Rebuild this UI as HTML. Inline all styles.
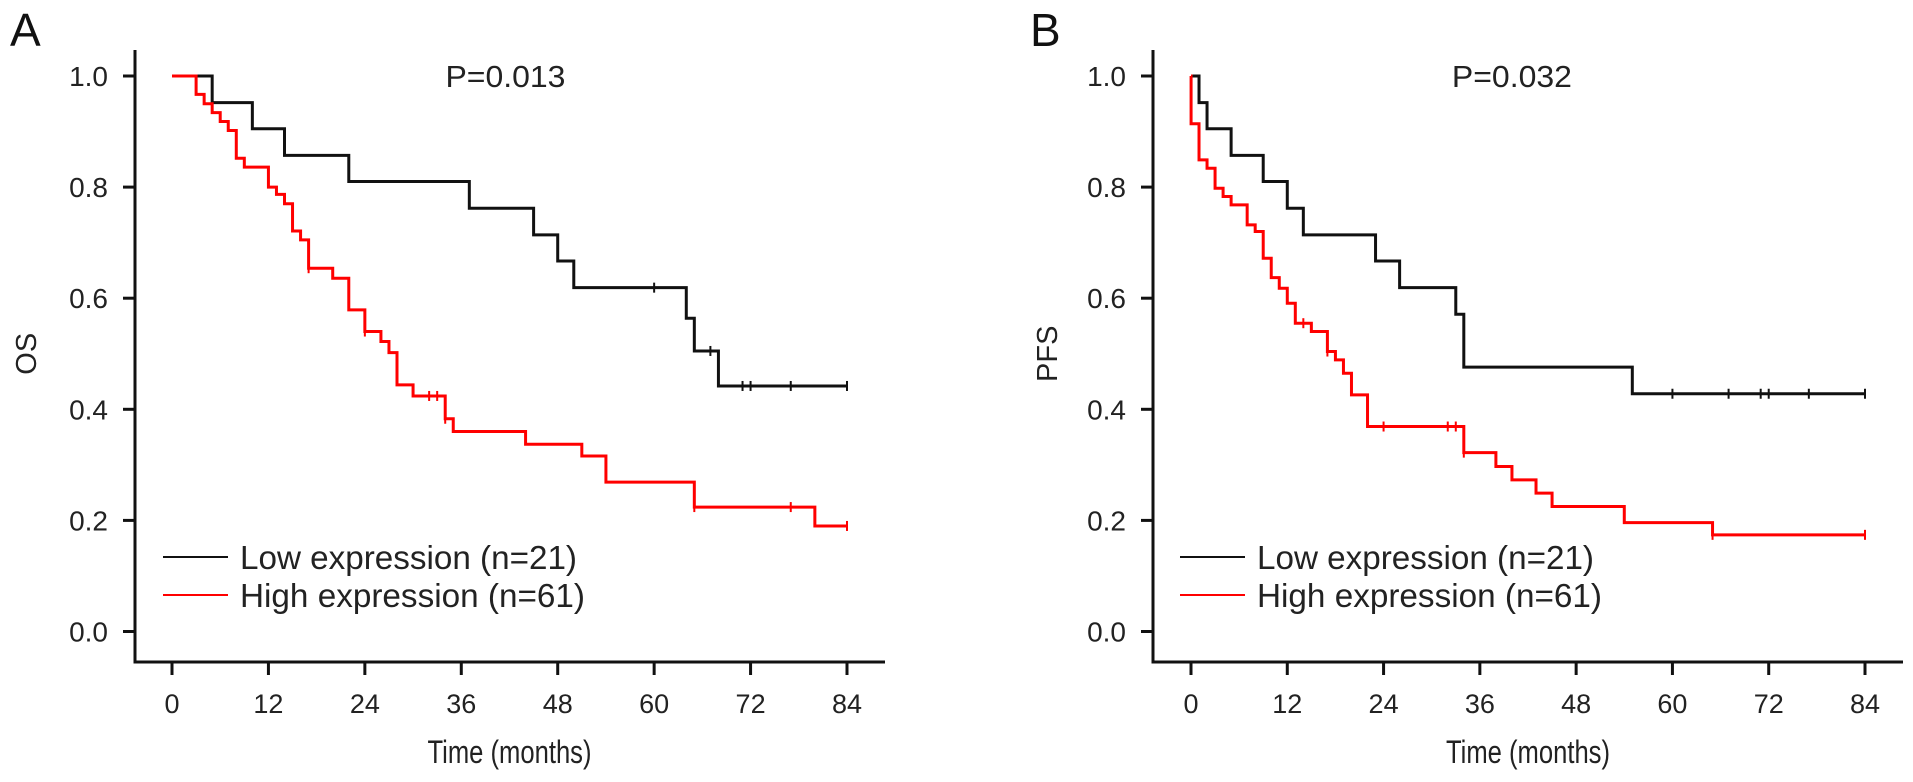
<!DOCTYPE html>
<html><head><meta charset="utf-8"><style>
html,body{margin:0;padding:0;background:#fff;}
svg{display:block;font-family:"Liberation Sans",Arial,sans-serif;}
</style></head>
<body>
<svg id="chart" width="1913" height="782" viewBox="0 0 1913 782" xmlns="http://www.w3.org/2000/svg"></svg>
<script>
// Panel A (OS) data
const aLowTimes = [0,5,10,14,22,37,45,48,50,64,65,68,84];
const aLowSurv  = [1,0.952,0.905,0.857,0.810,0.762,0.714,0.667,0.619,0.564,0.505,0.442,0.442];
const aLowCensor = [60,67,71,72,77,84];
const aHighTimes = [0,3,4,5,6,7,8,9,12,13,14,15,16,17,20,22,24,26,27,28,30,34,35,44,51,54,65,80,84];
const aHighSurv  = [1,0.967,0.950,0.934,0.918,0.902,0.852,0.836,0.800,0.787,0.770,0.721,0.705,0.654,0.636,0.579,0.540,0.522,0.502,0.444,0.424,0.383,0.360,0.337,0.316,0.269,0.224,0.190,0.190];
const aHighCensor = [17,24,32,33,34,65,77,84];
// Panel B (PFS) data
const bLowTimes = [0,1,2,5,9,12,14,23,26,33,34,55,84];
const bLowSurv  = [1,0.952,0.905,0.857,0.810,0.762,0.714,0.667,0.619,0.571,0.476,0.428,0.428];
const bLowCensor = [60,67,71,72,77,84];
const bHighTimes = [0,0.01,1,2,3,4,5,7,8,9,10,11,12,13,15,17,18,19,20,22,34,38,40,43,45,54,65,84];
const bHighSurv  = [1,0.914,0.849,0.834,0.798,0.783,0.768,0.732,0.720,0.672,0.637,0.618,0.591,0.555,0.540,0.504,0.489,0.465,0.426,0.369,0.322,0.297,0.273,0.249,0.225,0.196,0.174,0.174];
const bHighCensor = [14,17,24,32,33,34,65,84];
const xTicks = [0,12,24,36,48,60,72,84];
const yTicks = [0,0.2,0.4,0.6,0.8,1.0];
const yTickLabels = ["0.0","0.2","0.4","0.6","0.8","1.0"];

const NS = "http://www.w3.org/2000/svg";
const svg = document.getElementById('chart');
function mk(tag, attrs, parent, text){
  const e = document.createElementNS(NS, tag);
  for (const k in attrs) e.setAttribute(k, attrs[k]);
  if (text !== undefined) e.textContent = text;
  (parent||svg).appendChild(e);
  return e;
}
function survAt(times, surv, t){
  let s = surv[0];
  for (let i=0;i<times.length;i++){ if (times[i] <= t) s = surv[i]; }
  return s;
}
function panel(cfg){
  const x0 = cfg.x0, x84 = cfg.x84;
  const X = t => x0 + (x84 - x0) * t / 84;
  const Y = s => 631.5 - 555.5 * s;
  const g = mk('g', {});
  
  
  const lt = mk('text', {x: cfg.letterX, y: 46, 'font-size': 46, fill: '#111'}, g, cfg.letter);
  
  
  const ya = mk('line', {x1: cfg.axisX, y1: 50, x2: cfg.axisX, y2: 663, stroke: '#111', 'stroke-width': 3}, g);
  
  
  const xa = mk('line', {x1: cfg.axisX - 1.5, y1: 662, x2: cfg.axisX + 750, y2: 662, stroke: '#111', 'stroke-width': 3}, g);
  
  
  yTicks.forEach((v,i) => {
    mk('line', {x1: cfg.axisX - 12, y1: Y(v), x2: cfg.axisX, y2: Y(v), stroke: '#111', 'stroke-width': 3}, g);
    const t = mk('text', {x: cfg.axisX - 27, y: Y(v) + 10, 'font-size': 28, 'text-anchor': 'end', fill: '#222'}, g, yTickLabels[i]);
    
    
  });
  xTicks.forEach(v => {
    mk('line', {x1: X(v), y1: 662, x2: X(v), y2: 675, stroke: '#111', 'stroke-width': 3}, g);
    const t = mk('text', {x: X(v), y: 713, 'font-size': 27, 'text-anchor': 'middle', fill: '#222'}, g, String(v));
    
    
  });
  const xt = mk('text', {x: X(42), y: 763, 'font-size': 32, 'text-anchor': 'middle', fill: '#222', textLength: 164, lengthAdjust: 'spacingAndGlyphs'}, g, 'Time (months)');
  
  
  const yt = mk('text', {x: 0, y: 0, 'font-size': 29, 'text-anchor': 'middle', fill: '#222',
    transform: `translate(${cfg.yTitleX},${Y(0.5)}) rotate(-90)`}, g, cfg.yTitle);
  
  
  const pt = mk('text', {x: X(cfg.pAt), y: Y(1) + 11, 'font-size': 31, 'text-anchor': 'middle', fill: '#222', textLength: 120, lengthAdjust: 'spacingAndGlyphs'}, g, cfg.pText);
  
  
  cfg.series.forEach(sr => {
    let d = `M${X(sr.times[0])},${Y(sr.surv[0])}`;
    for (let i=1;i<sr.times.length;i++){
      d += ` H${X(sr.times[i])} V${Y(sr.surv[i])}`;
    }
    const p = mk('path', {d, fill: 'none', stroke: sr.color, 'stroke-width': 3}, g);
    
    
    sr.censor.forEach(c => {
      const s = survAt(sr.times, sr.surv, c);
      const m = mk('line', {x1: X(c), y1: Y(s) - 5, x2: X(c), y2: Y(s) + 5, stroke: sr.color, 'stroke-width': 2}, g);
      
      
    });
  });
  const lg = mk('g', {}, g);
  
  
  cfg.series.forEach((sr,i) => {
    const y = 557 + i * 38;
    mk('line', {x1: cfg.legX, y1: y, x2: cfg.legX + 65, y2: y, stroke: sr.color, 'stroke-width': 2}, lg);
    const t = mk('text', {x: cfg.legX + 77, y: y + 12, 'font-size': 33, fill: '#222', textLength: sr.labelW, lengthAdjust: 'spacingAndGlyphs'}, lg, sr.label);
    
    
  });
}
panel({name:'panel-a-os', letter:'A', letterX:10, x0:172, x84:847, axisX:135, yTitle:'OS', yTitleX:36, pText:'P=0.013', pAt:41.5, legX:163,
  series:[
    {name:'low-expression-curve', label:'Low expression (n=21)', labelW:337, color:'#111', times:aLowTimes, surv:aLowSurv, censor:aLowCensor},
    {name:'high-expression-curve', label:'High expression (n=61)', labelW:345, color:'#f00', times:aHighTimes, surv:aHighSurv, censor:aHighCensor}
  ]});
panel({name:'panel-b-pfs', letter:'B', letterX:1030, x0:1191, x84:1865, axisX:1153, yTitle:'PFS', yTitleX:1057, pText:'P=0.032', pAt:40, legX:1180,
  series:[
    {name:'low-expression-curve', label:'Low expression (n=21)', labelW:337, color:'#111', times:bLowTimes, surv:bLowSurv, censor:bLowCensor},
    {name:'high-expression-curve', label:'High expression (n=61)', labelW:345, color:'#f00', times:bHighTimes, surv:bHighSurv, censor:bHighCensor}
  ]});
</script>
</body></html>
